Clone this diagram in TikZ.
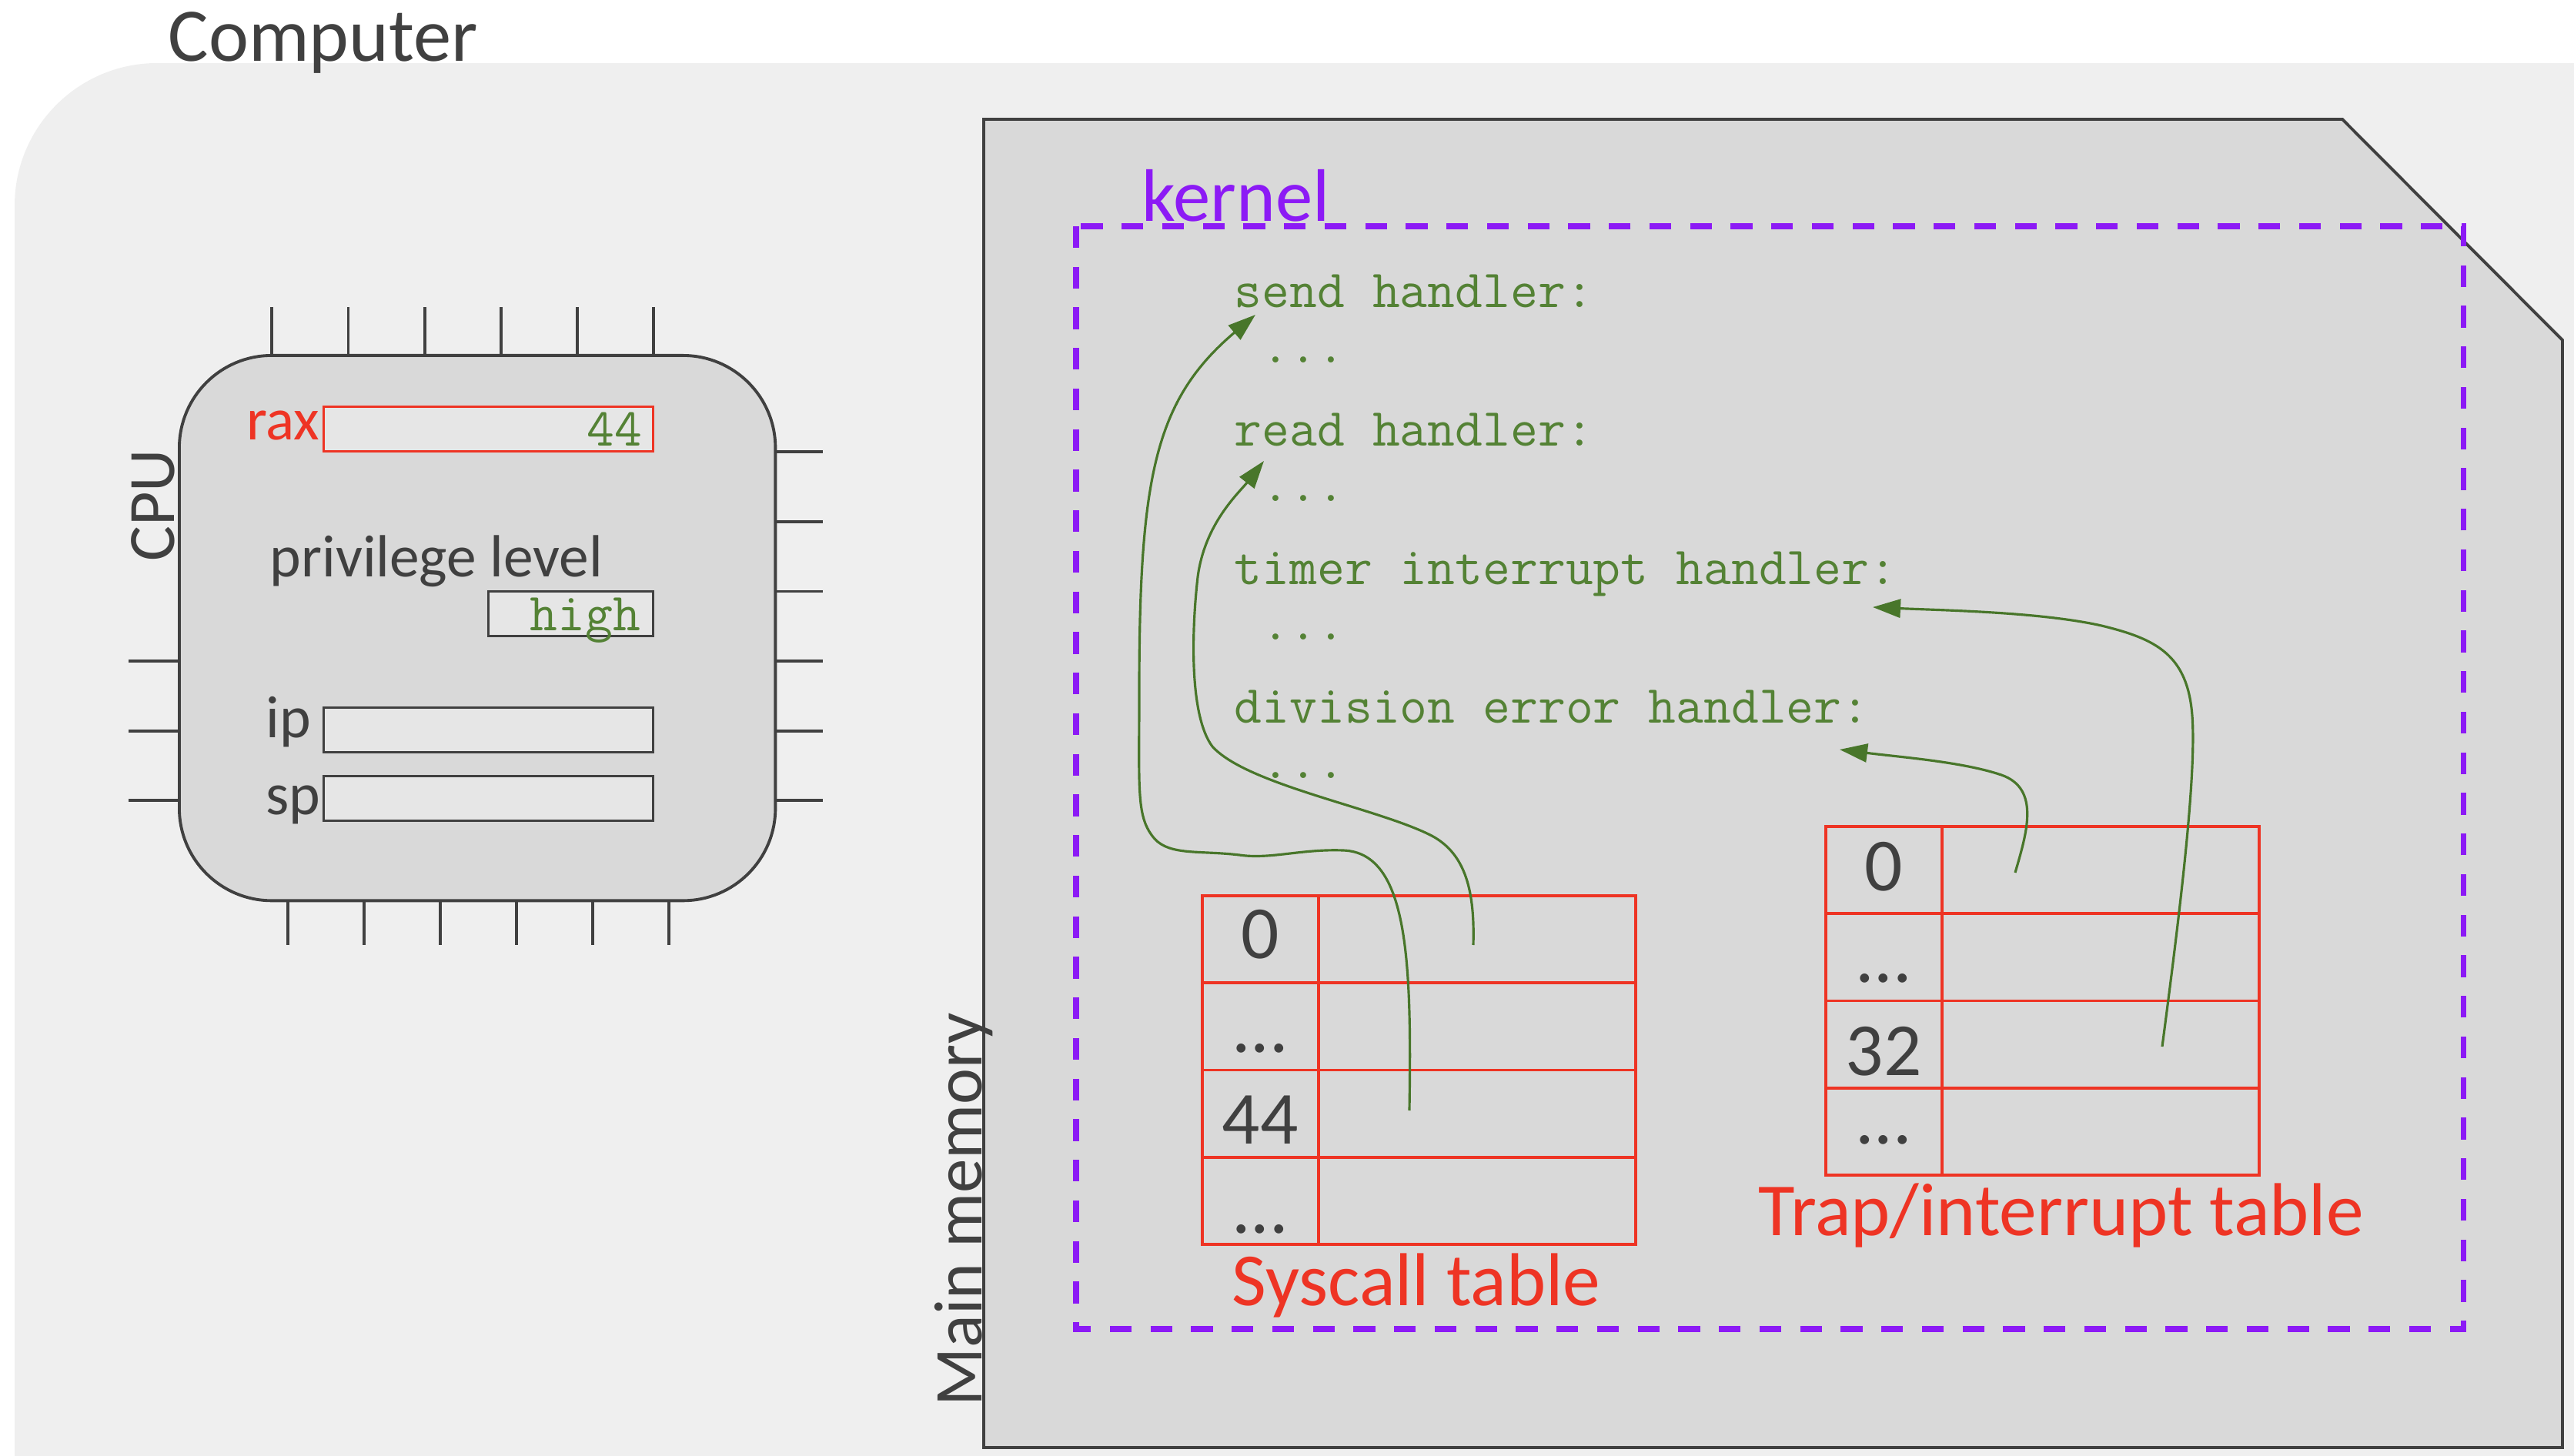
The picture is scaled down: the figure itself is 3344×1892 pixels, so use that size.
\documentclass[tikz,border=0pt]{standalone}
\usepackage{fontspec}
\setmainfont{Carlito}
\usetikzlibrary{arrows.meta}
\definecolor{inkgray}{RGB}{64,64,64}
\definecolor{boardgray}{RGB}{239,239,239}
\definecolor{partgray}{RGB}{217,217,217}
\definecolor{reggray}{RGB}{230,230,230}
\definecolor{tabred}{RGB}{238,52,36}
\definecolor{kernpurple}{RGB}{140,26,245}
\definecolor{codegreen}{RGB}{84,130,53}
\definecolor{ptrgreen}{RGB}{72,118,42}
\tikzset{
  hwpart/.style={fill=partgray, draw=inkgray, line width=1.1pt},
  hwpin/.style={draw=inkgray, line width=1.1pt},
  regbox/.style={draw=inkgray, fill=reggray, line width=0.9pt, inner sep=0pt, anchor=north west},
  kernbox/.style={draw=kernpurple, line width=2pt, dash pattern=on 8pt off 7pt},
  tabline/.style={draw=tabred, line width=1pt},
  hwlbl/.style={text=inkgray, inner sep=0pt, font=\fontsize{22}{26}\selectfont},
  celllbl/.style={text=inkgray, inner sep=0pt, anchor=base, font=\fontsize{27.7}{32}\selectfont},
  tablbl/.style={text=tabred, inner sep=0pt, anchor=base west, font=\fontsize{27.7}{32}\selectfont},
  codelbl/.style={text=codegreen, inner sep=0pt, anchor=base west, font=\ttfamily\fontsize{19.8}{23}\selectfont},
  ptr/.style={->, >={Stealth[length=0.36cm,width=0.24cm,inset=0pt]}, draw=ptrgreen, line width=0.9pt},
}
\newcommand{\memtable}[2]{%
  \draw[tabline] (#1,#2) rectangle ++(563,453);
  \draw[tabline] (#1+151,#2) -- ++(0,453);
  \foreach \r in {1,2,3}
    \draw[tabline] (#1,#2+113.25*\r) -- ++(563,0);
}

\begin{document}
\begin{tikzpicture}[x=0.01cm, y=-0.01cm]
    
      \useasboundingbox (0,0) rectangle (3344,1892);
      \clip (0,0) rectangle (3344,1892);
      \fill[boardgray, rounded corners=1.85cm] (19,2100) -- (19,82) -- (3600,82) -- (3600,2100) -- cycle;
      \node[hwlbl, anchor=base west, font=\fontsize{28}{32}\selectfont] (computer) at (218,80) {Computer};
    
      \foreach \x in {353,452.5,552,651,750,849}
        \draw[hwpin] (\x,399) -- (\x,460);
      \foreach \x in {374,473,572,671,770,869}
        \draw[hwpin] (\x,1168) -- (\x,1228);
      \foreach \y in {587,678,768.5,859,950,1040}
        \draw[hwpin] (1005,\y) -- (1069,\y);
      \foreach \y in {859,950,1040}
        \draw[hwpin] (167,\y) -- (231,\y);
      \node[hwpart, rounded corners=1.2cm, minimum width=7.74cm, minimum height=7.08cm,
            anchor=north west, inner sep=0pt] (cpu) at (231,460) {};
      \node[hwlbl, rotate=90, anchor=base, font=\fontsize{24.5}{28}\selectfont] (cpulbl) at (226,657) {CPU};
    
      \node[regbox, draw=tabred, minimum width=4.28cm, minimum height=0.58cm] (rax) at (419,527) {};
      \node[hwlbl, text=tabred, anchor=base east] (raxlbl) at (416,572) {rax};
      \node[codelbl, anchor=base east] (raxval) at (835,580) {44};
      \node[hwlbl, anchor=base west] (privlbl) at (350,750) {privilege level};
      \node[regbox, minimum width=2.14cm, minimum height=0.58cm] (priv) at (633,767) {};
      \node[codelbl, anchor=base east] (privval) at (833,820) {high};
      \node[regbox, minimum width=4.28cm, minimum height=0.58cm] (ip) at (419,918) {};
      \node[hwlbl, anchor=base west] (iplbl) at (345,959) {ip};
      \node[regbox, minimum width=4.28cm, minimum height=0.58cm] (sp) at (419,1007) {};
      \node[hwlbl, anchor=base west] (splbl) at (345,1059) {sp};
    
      \draw[hwpart] (1278,155) -- (3043,155) -- (3329,442) -- (3329,1881) -- (1278,1881) -- cycle;
      \node[hwlbl, rotate=90, anchor=base, font=\fontsize{25.3}{30}\selectfont] (memlbl) at (1275,1572) {Main memory};
    
      \draw[kernbox] (1398,294) rectangle (3200,1727);
      \node[hwlbl, text=kernpurple, anchor=base west, font=\fontsize{27.5}{31}\selectfont] (kernlbl) at (1483,288) {kernel};
    
      \foreach \hname [count=\i from 0] in {send handler:,read handler:,timer interrupt handler:,division error handler:} {
        \node[codelbl] (h\i) at (1603,400+180*\i) {\hname};
        \node[codelbl] (dots\i) at (1639,472+180*\i) {...};
      }
    
      \memtable{1562}{1164}
      \node[celllbl] (sys0) at (1637,1246) {0};
      \node[celllbl] (sysdots) at (1637,1368) {...};
      \node[celllbl] (sys44) at (1637,1487) {44};
      \node[celllbl] (sysend) at (1637,1603) {...};
      \node[tablbl] (systitle) at (1600,1696) {Syscall table};
    
      \memtable{2372}{1074}
      \node[celllbl] (trap0) at (2447,1157.5) {0};
      \node[celllbl] (trapdots) at (2447,1277) {...};
      \node[celllbl] (trap32) at (2447,1397.5) {32};
      \node[celllbl] (trapend) at (2447,1486.5) {...};
      \node[tablbl] (traptitle) at (2284,1606) {Trap/interrupt table};
    
      \coordinate (sys44ptr) at (1831,1443);
      \coordinate (sys0ptr) at (1914,1228);
      \coordinate (trap0ptr) at (2618,1134);
      \coordinate (trap32ptr) at (2809,1360);
      \coordinate (sendin) at (1631,409);
      \coordinate (readin) at (1642,599);
      \coordinate (timerin) at (2433,789);
      \coordinate (divin) at (2390,974);
    
      \draw[ptr] (sys44ptr) .. controls (1834,1250) and (1830,1108) .. (1745,1105)
        .. controls (1690,1103) and (1650,1117) .. (1610,1111)
        .. controls (1560,1105) and (1520,1112) .. (1500,1090)
        .. controls (1476,1062) and (1480,1030) .. (1480,900)
        .. controls (1480,620) and (1500,520) .. (sendin);
      \draw[ptr] (sys0ptr) .. controls (1916,1160) and (1905,1110) .. (1860,1086)
        .. controls (1790,1050) and (1620,1020) .. (1575,970)
        .. controls (1545,930) and (1548,820) .. (1556,750)
        .. controls (1565,680) and (1610,640) .. (readin);
      \draw[ptr] (trap0ptr) .. controls (2632,1085) and (2652,1025) .. (2600,1007)
        .. controls (2550,990) and (2470,984) .. (divin);
      \draw[ptr] (trap32ptr) .. controls (2830,1200) and (2854,1010) .. (2848,930)
        .. controls (2842,850) and (2800,830) .. (2730,813)
        .. controls (2650,795) and (2520,793) .. (timerin);
    
    \end{tikzpicture}
\end{document}
